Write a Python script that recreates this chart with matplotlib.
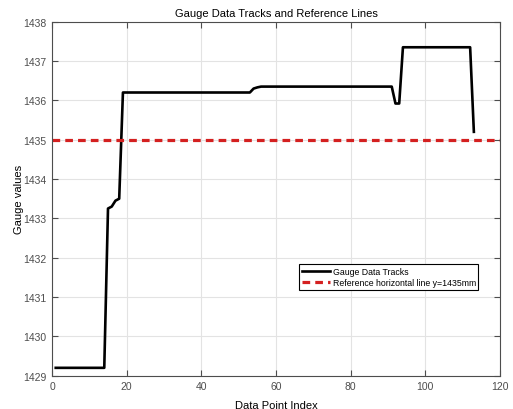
import numpy as np
import matplotlib
matplotlib.use('Agg')
import matplotlib.pyplot as plt

plt.rcParams['font.family'] = ['Liberation Sans', 'DejaVu Sans']

# --数据
gauge_vals = ([1429.2] * 14
              + [1433.25, 1433.3, 1433.45, 1433.5]
              + [1436.2] * 35
              + [1436.3, 1436.33]
              + [1436.35] * 36
              + [1435.92, 1435.92]
              + [1437.35] * 19
              + [1435.2])
point_idx = np.arange(1, len(gauge_vals) + 1)
ref_y = 1435
x_ticks = [0, 20, 40, 60, 80, 100, 120]
y_ticks = list(range(1429, 1439))

fig = plt.figure(figsize=(5.13, 4.10), dpi=100)
ax = fig.add_axes([52 / 513, 1 - 376.7 / 410, 448 / 513, 354 / 410])

ax.plot(point_idx, gauge_vals, color='k', lw=1.9, label='Gauge Data Tracks')
ax.axhline(ref_y, color='#d42020', lw=2.3, ls=(0, (2.4, 1.6)),
           label='Reference horizontal line y=1435mm')

ax.set_xlim(0, 120)
ax.set_ylim(1429, 1438)
ax.set_xticks(x_ticks)
ax.set_yticks(y_ticks)
ax.grid(True, color='#e3e3e3', lw=0.8)
ax.set_axisbelow(True)
ax.tick_params(direction='in', length=4, labelsize=7.5, colors='#4d4d4d',
               top=True, right=True, labeltop=False, labelright=False, pad=4)
for s in ax.spines.values():
    s.set_color('#4d4d4d')
    s.set_linewidth(0.8)

ax.set_title('Gauge Data Tracks and Reference Lines', fontsize=8, pad=4)
ax.set_xlabel('Data Point Index', fontsize=8, labelpad=6)
ax.set_ylabel('Gauge values', fontsize=8, labelpad=-1)

leg = ax.legend(loc='lower left', bbox_to_anchor=(0.552, 0.242), fontsize=6.3,
                frameon=True, fancybox=False, edgecolor='k', framealpha=1,
                borderpad=0.3, labelspacing=0.3, handlelength=3.2,
                handletextpad=0.3, borderaxespad=0)
leg.get_frame().set_linewidth(0.8)

plt.savefig('out.png', dpi=100)
